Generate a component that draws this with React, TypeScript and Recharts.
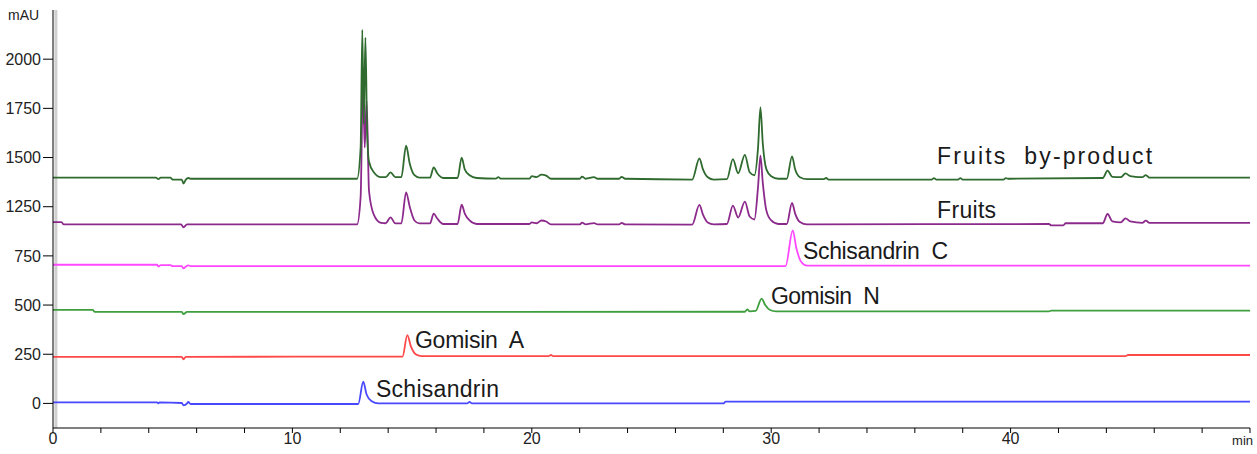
import { LineChart, Line, XAxis, YAxis, ReferenceLine, ReferenceDot } from "recharts";

// retention time (min) / absorbance pairs
const byProduct: [number, number][] = [
  [0, 1148], [4.3, 1148], [4.4, 1140], [4.5, 1148], [4.9, 1148], [5.0, 1138], [5.38, 1138],
  [5.45, 1118], [5.55, 1138], [5.65, 1146], [5.75, 1142], [12.7, 1142], [12.85, 1300],
  [12.92, 1900], [12.98, 1420], [13.05, 1860], [13.12, 1380], [13.2, 1230], [13.4, 1175],
  [13.7, 1150], [13.9, 1150], [14.1, 1175], [14.3, 1150], [14.55, 1150], [14.75, 1310],
  [14.9, 1220], [15.1, 1160], [15.3, 1148], [15.75, 1148], [15.9, 1200], [16.05, 1170],
  [16.3, 1146], [16.9, 1146], [17.07, 1249], [17.2, 1190], [17.4, 1160], [17.7, 1146],
  [18.5, 1143], [18.6, 1150], [18.7, 1143], [19.9, 1143], [20.0, 1155], [20.2, 1150],
  [20.4, 1163], [20.6, 1158], [20.8, 1142], [22.0, 1142], [22.1, 1153], [22.25, 1142],
  [22.6, 1150], [22.75, 1142], [23.65, 1142], [23.75, 1152], [23.9, 1142], [26.7, 1138],
  [27.0, 1245], [27.15, 1190], [27.35, 1150], [27.6, 1138], [28.15, 1140], [28.4, 1242],
  [28.62, 1170], [28.9, 1264], [29.1, 1175], [29.3, 1160], [29.45, 1300], [29.55, 1505],
  [29.65, 1320], [29.8, 1190], [30.0, 1155], [30.3, 1142], [30.65, 1142], [30.87, 1256],
  [31.0, 1190], [31.2, 1150], [31.5, 1140], [32.2, 1140], [32.3, 1146], [32.4, 1138],
  [36.7, 1138], [36.8, 1145], [36.9, 1138], [37.8, 1138], [37.9, 1145], [38.0, 1138],
  [39.7, 1138], [39.8, 1145], [39.9, 1142], [43.85, 1146], [44.05, 1183], [44.25, 1152],
  [44.6, 1150], [44.8, 1169], [45.0, 1155], [45.2, 1152], [45.5, 1150], [45.65, 1161],
  [45.8, 1148], [50, 1148],
];

const fruits: [number, number][] = [
  [0, 922], [0.35, 922], [0.45, 910], [5.35, 910], [5.45, 895], [5.6, 910], [12.7, 910],
  [12.85, 1050], [12.95, 1650], [13.02, 1300], [13.1, 1540], [13.2, 1080], [13.4, 960],
  [13.7, 918], [13.9, 916], [14.1, 946], [14.3, 915], [14.55, 915], [14.75, 1073],
  [14.9, 1000], [15.1, 930], [15.3, 915], [15.75, 915], [15.9, 965], [16.05, 940],
  [16.3, 912], [16.9, 912], [17.07, 1010], [17.2, 965], [17.4, 930], [17.7, 912],
  [19.9, 912], [20.0, 920], [20.2, 916], [20.4, 930], [20.6, 925], [20.8, 910],
  [22.0, 910], [22.1, 919], [22.25, 910], [22.6, 917], [22.75, 910], [23.65, 910],
  [23.75, 918], [23.9, 910], [26.7, 909], [27.0, 1009], [27.15, 960], [27.35, 920],
  [27.6, 910], [28.15, 912], [28.4, 1006], [28.62, 945], [28.9, 1026], [29.1, 950],
  [29.3, 935], [29.45, 1100], [29.55, 1259], [29.65, 1120], [29.8, 980], [30.0, 930],
  [30.3, 912], [30.65, 912], [30.87, 1019], [31.0, 965], [31.2, 922], [31.5, 910],
  [41.6, 912], [41.7, 905], [42.2, 905], [42.3, 916], [43.85, 916], [44.05, 963],
  [44.25, 925], [44.6, 920], [44.8, 941], [45.0, 925], [45.5, 918], [45.65, 929],
  [45.8, 918], [50, 918],
];

const schisandrinC: [number, number][] = [
  [0, 705], [4.35, 705], [4.4, 696], [4.5, 703], [4.9, 703], [5.0, 698], [5.38, 698],
  [5.45, 686], [5.55, 696], [5.65, 702], [5.75, 698], [30.6, 698], [30.9, 880],
  [31.05, 790], [31.25, 720], [31.5, 700], [50, 700],
];

const gomisinN: [number, number][] = [
  [0, 476], [1.65, 476], [1.75, 465], [5.38, 465], [5.45, 454], [5.6, 465], [28.9, 466],
  [29.0, 478], [29.1, 468], [29.35, 470], [29.6, 533], [29.75, 500], [29.95, 475],
  [30.2, 468], [41.6, 468], [41.7, 472], [50, 472],
];

const gomisinA: [number, number][] = [
  [0, 237], [5.38, 237], [5.45, 224], [5.55, 237], [14.6, 238], [14.8, 347], [14.95, 290],
  [15.15, 250], [15.4, 240], [20.7, 240], [20.8, 246], [20.9, 240], [44.8, 240],
  [44.9, 246], [50, 246],
];

const schisandrin: [number, number][] = [
  [0, 5], [4.35, 5], [4.4, 0], [4.45, 5], [5.38, 2], [5.45, -10], [5.6, 0], [5.65, 8],
  [5.75, -3], [12.75, -3], [12.96, 110], [13.1, 45], [13.3, 12], [13.6, 0], [17.3, 0],
  [17.4, 8], [17.5, 0], [28.0, 0], [28.1, 9], [50, 9],
];

const xTicks = [0, 2, 4, 6, 8, 10, 12, 14, 16, 18, 20, 22, 24, 26, 28, 30, 32, 34, 36, 38, 40, 42, 44, 46, 48, 50];
const yTicks = [0, 250, 500, 750, 1000, 1250, 1500, 1750];
const yTickLabels = ["0", "250", "500", "750", "1250", "1500", "1750", "2000"];

const annotations = [
  { text: "Fruits  by-product", t: 36.93, v: 1218, w: 215 },
  { text: "Fruits", t: 36.93, v: 945, w: 59 },
  { text: "Schisandrin  C", t: 31.33, v: 732, w: 145 },
  { text: "Gomisin  N", t: 29.99, v: 504, w: 109 },
  { text: "Gomisin  A", t: 15.12, v: 280, w: 109 },
  { text: "Schisandrin", t: 13.49, v: 32, w: 123 },
];

const traces = [
  { name: "Schisandrin", rows: schisandrin, color: "#4848ff" },
  { name: "Gomisin A", rows: gomisinA, color: "#ff4848" },
  { name: "Gomisin N", rows: gomisinN, color: "#3f9f3f" },
  { name: "Schisandrin C", rows: schisandrinC, color: "#ff48ff" },
  { name: "Fruits", rows: fruits, color: "#8c2a8c" },
  { name: "Fruits by-product", rows: byProduct, color: "#2f6a2f" },
];

const font = "'Liberation Sans', Arial, sans-serif";

function XTick(props: any) {
  const { x, y, payload } = props;
  const v = payload.value;
  if (v === 50) {
    return (
      <text x={x + 3} y={y + 12} textAnchor="end" fontSize={13} fontFamily={font} fill="#222">
        min
      </text>
    );
  }
  if (v % 10 !== 0) return null;
  return (
    <text x={x} y={y} dy="0.71em" textAnchor="middle" fontSize={16} fontFamily={font} fill="#222">
      {v}
    </text>
  );
}

export default function App() {
  return (
    <div style={{ position: "fixed", left: 0, top: 0, width: 1257, height: 454, background: "#fff" }}>
      <LineChart width={1257} height={454} margin={{ top: 10, right: 7, bottom: 0, left: 0 }}>
        <XAxis
          dataKey="t"
          type="number"
          domain={[0, 50]}
          ticks={xTicks}
          interval={0}
          height={26}
          tickSize={5}
          tickMargin={0}
          stroke="#000"
          tick={<XTick />}
        />
        <YAxis
          type="number"
          domain={[-125, 2000]}
          ticks={yTicks}
          interval={0}
          width={53}
          tickSize={10}
          tickMargin={2}
          stroke="#000"
          tick={{ fontSize: 16, fontFamily: font, fill: "#222" }}
          tickFormatter={(v: number) => yTickLabels[yTicks.indexOf(v)]}
          label={{
            value: "mAU",
            content: (p: any) => (
              <text x={p.viewBox.x + 8} y={p.viewBox.y + 10} fontSize={14} fontFamily={font} fill="#222">
                mAU
              </text>
            ),
          }}
        />
        <ReferenceLine x={0.12} stroke="#cfcfcf" strokeWidth={3} />
        {traces.map((s) => (
          <Line
            key={s.name}
            data={s.rows.map(([t, v]) => ({ t, v }))}
            dataKey="v"
            name={s.name}
            type="monotone"
            stroke={s.color}
            strokeWidth={1.8}
            dot={false}
            isAnimationActive={false}
          />
        ))}
        {annotations.map((a) => (
          <ReferenceDot
            key={a.text}
            x={a.t}
            y={a.v}
            r={1}
            fill="none"
            stroke="none"
            label={{
              content: (p: any) => {
                const vb = p.viewBox;
                return (
                  <text
                    x={vb.x + vb.width / 2}
                    y={vb.y + vb.height / 2}
                    fontSize={23}
                    fontFamily={font}
                    fill="#1a1a1a"
                    textLength={a.w}
                    lengthAdjust="spacing"
                    style={{ whiteSpace: "pre" }}
                  >
                    {a.text}
                  </text>
                );
              },
            }}
          />
        ))}
      </LineChart>
    </div>
  );
}
